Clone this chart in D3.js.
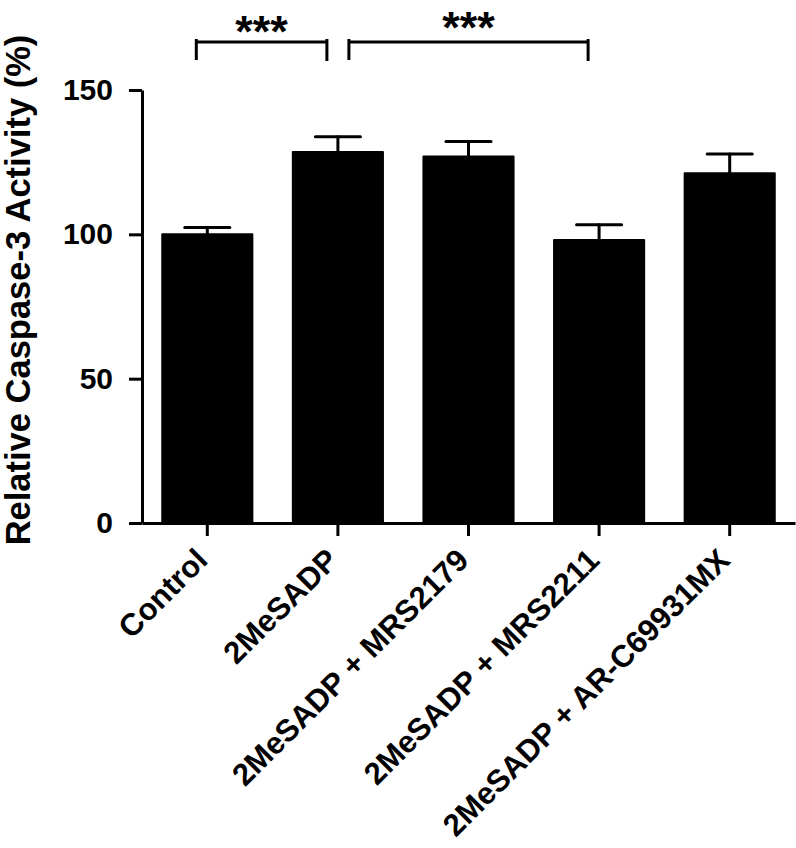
<!DOCTYPE html>
<html>
<head>
<meta charset="utf-8">
<script src="https://cdn.jsdelivr.net/npm/d3@7"></script>
<style>
  html, body { margin: 0; padding: 0; background: #fff; }
  svg { display: block; font-family: "Liberation Sans", Arial, Helvetica, sans-serif; font-weight: bold; }
</style>
</head>
<body>
<svg id="chart"></svg>
<script>
// Caspase-3 activity bar chart (mean + SEM)
const categories = ["Control", "2MeSADP", "2MeSADP + MRS2179", "2MeSADP + MRS2211", "2MeSADP + AR-C69931MX"];
const means = [100, 128.5, 127, 98, 121.2];
const errors = [2.4, 5.3, 5.2, 5.3, 6.6];
const yTicks = [0, 50, 100, 150];
// significance brackets: [from, to, label]
const sigFrom = ["Control", "2MeSADP"];
const sigTo = ["2MeSADP", "2MeSADP + MRS2211"];
const sigLabels = ["***", "***"];

const width = 796, height = 848;
const margin = { top: 90, right: 1, bottom: 325, left: 142 };

const svg = d3.select("#chart").attr("width", width).attr("height", height);

const x = d3.scaleBand()
    .domain(categories)
    .range([margin.left, width - margin.right])
    .paddingInner(0.31)
    .paddingOuter(0.155);

const y = d3.scaleLinear()
    .domain([0, 150])
    .range([height - margin.bottom, margin.top]);

const data = categories.map(function (c, i) {
    return { cat: c, mean: means[i], err: errors[i] };
});

const fontFam = "'Liberation Sans', Arial, sans-serif";

// bars
svg.append("g").selectAll("rect")
    .data(data)
    .enter()
    .append("rect")
    .attr("x", function (d) { return x(d.cat); })
    .attr("y", function (d) { return y(d.mean); })
    .attr("width", x.bandwidth())
    .attr("height", function (d) { return y(0) - y(d.mean); })
    .attr("fill", "#000")
    .attr("stroke", "#000")
    .attr("stroke-width", 2)
    .attr("stroke-linejoin", "round");

// error bars (upper only)
const capW = x.bandwidth() / 2;
const eb = svg.append("g").attr("stroke", "#000").attr("stroke-width", 3).attr("stroke-linecap", "round");
eb.selectAll(".stem")
    .data(data)
    .enter()
    .append("line")
    .attr("x1", function (d) { return x(d.cat) + x.bandwidth() / 2; })
    .attr("x2", function (d) { return x(d.cat) + x.bandwidth() / 2; })
    .attr("y1", function (d) { return y(d.mean); })
    .attr("y2", function (d) { return y(d.mean + d.err); });
eb.selectAll(".cap")
    .data(data)
    .enter()
    .append("line")
    .attr("x1", function (d) { return x(d.cat) + x.bandwidth() / 2 - capW / 2; })
    .attr("x2", function (d) { return x(d.cat) + x.bandwidth() / 2 + capW / 2; })
    .attr("y1", function (d) { return y(d.mean + d.err); })
    .attr("y2", function (d) { return y(d.mean + d.err); });

// y axis
const yAxis = d3.axisLeft(y).tickValues(yTicks).tickSize(13).tickPadding(16).tickSizeOuter(0);
svg.append("g")
    .attr("transform", "translate(" + margin.left + ",0)")
    .call(yAxis)
    .call(function (g) { g.select(".domain").attr("stroke-width", 3); })
    .call(function (g) { g.selectAll(".tick line").attr("stroke-width", 3); })
    .call(function (g) {
        g.selectAll(".tick text")
            .attr("font-size", "30px")
            .attr("font-weight", "bold")
            .attr("font-family", fontFam)
            .attr("fill", "#000");
    });

// x axis
const xAxis = d3.axisBottom(x).tickSize(13).tickSizeOuter(0);
svg.append("g")
    .attr("transform", "translate(0," + y(0) + ")")
    .call(xAxis)
    .call(function (g) { g.select(".domain").attr("stroke-width", 3); })
    .call(function (g) { g.selectAll(".tick line").attr("stroke-width", 3); })
    .call(function (g) {
        g.selectAll(".tick text")
            .attr("font-size", "31px")
            .attr("font-weight", "bold")
            .attr("font-family", fontFam)
            .attr("fill", "#000")
            .attr("text-anchor", "end")
            .attr("dy", null)
            .attr("y", null)
            .attr("transform", "translate(2,39) rotate(-45)");
    });

// y axis title
svg.append("text")
    .attr("transform", "translate(30,290) rotate(-90)")
    .attr("text-anchor", "middle")
    .attr("font-size", "34.5px")
    .attr("fill", "#000")
    .text("Relative Caspase-3 Activity (%)");

// significance brackets
const brY = 42, legDown = 18, legUp = 3, inset = 11;
const br = svg.append("g");
sigFrom.forEach(function (f, i) {
    const x1 = x(f) + x.bandwidth() / 2 + (i === 0 ? -inset : inset);
    const x2 = x(sigTo[i]) + x.bandwidth() / 2 - inset;
    br.append("path")
        .attr("d", "M" + x1 + "," + (brY - legUp) + "V" + (brY + legDown) +
            "M" + x1 + "," + brY + "H" + x2 +
            "M" + x2 + "," + (brY - legUp) + "V" + (brY + legDown + 1))
        .attr("fill", "none")
        .attr("stroke", "#000")
        .attr("stroke-width", 3);
    br.append("text")
        .attr("x", (x1 + x2) / 2)
        .attr("y", i === 0 ? 47 : 43)
        .attr("text-anchor", "middle")
        .attr("font-size", "45px")
        .attr("fill", "#000")
        .text(sigLabels[i]);
});
</script>
</body>
</html>
